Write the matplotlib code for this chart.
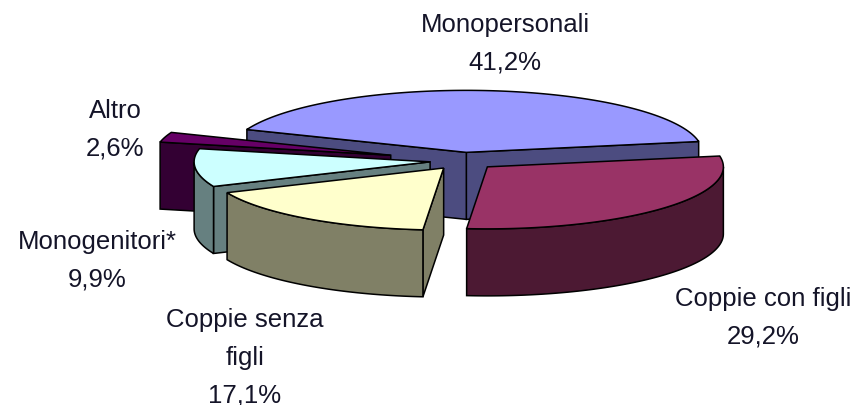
import numpy as np
import matplotlib
matplotlib.use("Agg")
import matplotlib.pyplot as plt
from matplotlib.patches import Polygon

# ---- data ----
categories = ["Monopersonali", "Coppie con figli", "Coppie senza\nfigli", "Monogenitori*", "Altro"]
values = [41.2, 29.2, 17.1, 9.9, 2.6]
value_labels = ["41,2%", "29,2%", "17,1%", "9,9%", "2,6%"]

# ---- style ----
top_colors = ["#9999FF", "#993366", "#FFFFCC", "#CCFFFF", "#660066"]
side_colors = ["#4C4C80", "#4C1933", "#808066", "#668080", "#330033"]
explode = [0.14, 0.14, 0.14, 0.14, 0.32]
start_angle = 158.4        # degrees, slices run clockwise
cx, cy = 463.0, 162.0      # pie centre (pixels)
rx, ry = 236.0, 62.0       # ellipse radii
depth = 67.0               # thickness of the pie
label_pos = [(505, 23), (763, 297), (245, 318), (97, 240), (115, 109)]
line_step = 38.0
text_color = "#141428"

W, H = 859, 406
fig = plt.figure(figsize=(W / 100, H / 100), dpi=100)
ax = fig.add_axes([0, 0, 1, 1])
ax.set_xlim(0, W)
ax.set_ylim(H, 0)
ax.axis("off")

total = sum(values)
slices = []
acc = 0.0
for i, v in enumerate(values):
    hi = start_angle - acc / total * 360.0
    lo = hi - v / total * 360.0
    acc += v
    mid = np.deg2rad((hi + lo) / 2)
    ax_ = cx + explode[i] * rx * np.cos(mid)
    ay_ = cy - explode[i] * ry * np.sin(mid)
    slices.append(dict(i=i, lo=lo, hi=hi, mid=mid, apex=(ax_, ay_)))


def pt(apex, th_deg, z=0.0):
    t = np.deg2rad(th_deg)
    return (apex[0] + rx * np.cos(t), apex[1] - ry * np.sin(t) + z)


def arc(apex, a, b, z=0.0, n=None):
    if n is None:
        n = max(4, int(abs(b - a) * 1.5))
    ths = np.linspace(a, b, n)
    return [pt(apex, t, z) for t in ths]


# painter's order: back slices first
order = sorted(slices, key=lambda s: -np.sin(s["mid"]))
for s in order:
    i, lo, hi, apex = s["i"], s["lo"], s["hi"], s["apex"]
    side = side_colors[i]
    kw = dict(edgecolor="black", linewidth=1.1, joinstyle="miter")
    # visible cut faces
    if np.cos(np.deg2rad(lo)) > 0:
        p = pt(apex, lo)
        poly = [apex, p, (p[0], p[1] + depth), (apex[0], apex[1] + depth)]
        ax.add_patch(Polygon(poly, closed=True, facecolor=side, **kw))
    if np.cos(np.deg2rad(hi)) < 0:
        p = pt(apex, hi)
        poly = [apex, p, (p[0], p[1] + depth), (apex[0], apex[1] + depth)]
        ax.add_patch(Polygon(poly, closed=True, facecolor=side, **kw))
    # visible outer wall (front half: angle in [-180, 0] mod 360)
    for k in (-1, 0, 1):
        a = max(lo, -180 + 360 * k)
        b = min(hi, 0 + 360 * k)
        if b > a:
            top = arc(apex, a, b)
            bot = arc(apex, b, a, depth)
            ax.add_patch(Polygon(top + bot, closed=True, facecolor=side, **kw))
    # top face
    poly = [apex] + arc(apex, lo, hi)
    ax.add_patch(Polygon(poly, closed=True, facecolor=top_colors[i], **kw))

# labels
for i, (name, val) in enumerate(zip(categories, value_labels)):
    lines = name.split("\n") + [val]
    x0, y0 = label_pos[i]
    for j, line in enumerate(lines):
        ax.text(x0, y0 + j * line_step + 8.7, line, ha="center", va="baseline",
                fontsize=18.5, family=["Liberation Sans", "DejaVu Sans"],
                color=text_color)

fig.savefig("out.png", dpi=100)
